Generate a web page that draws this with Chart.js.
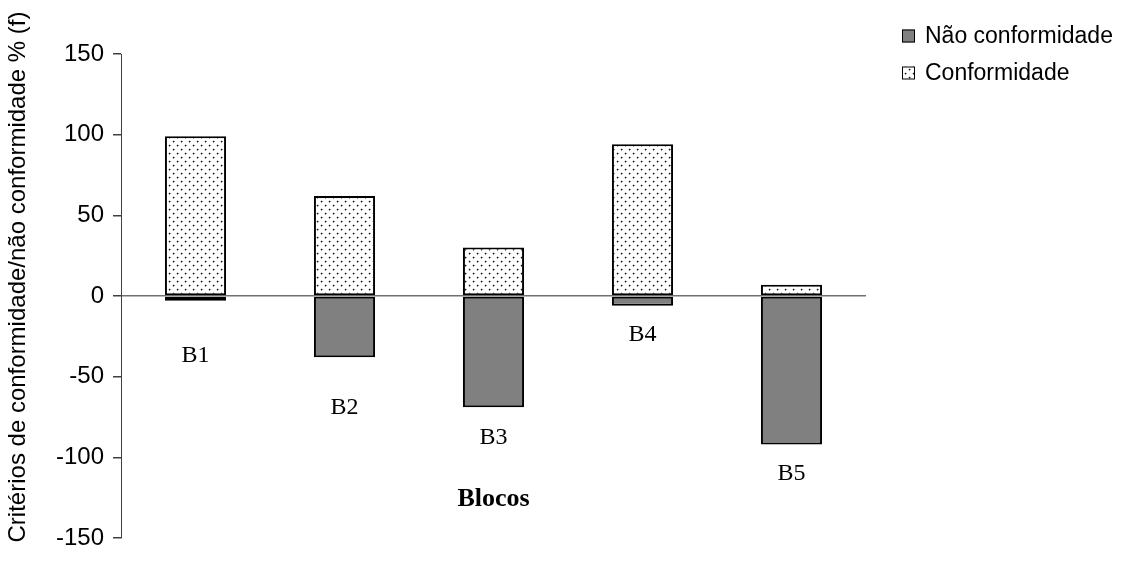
<!DOCTYPE html>
<html>
<head>
<meta charset="utf-8">
<script src="https://cdn.jsdelivr.net/npm/chart.js@4/dist/chart.umd.min.js"></script>
<style>
  html, body { margin: 0; padding: 0; background: #ffffff; }
  #wrap { width: 1131px; height: 571px; position: relative; }
</style>
</head>
<body>
<div id="wrap"><canvas id="chart" width="1131" height="571"></canvas></div>
<script>
// Blocks and their share of criteria met / not met (%)
const categories = ['B1', 'B2', 'B3', 'B4', 'B5'];
const naoConformidade = [-3, -38, -69, -6, -92];
const conformidade = [99, 62, 30, 94, 7];
const seriesNames = ['Não conformidade', 'Conformidade'];
const axisTitleY = 'Critérios de conformidade/não conformidade % (f)';
const axisTitleX = 'Blocos';

const SANS = "'Liberation Sans', Arial, Helvetica, sans-serif";
const SERIF = "'Liberation Serif', 'Times New Roman', Times, serif";

// Small dotted fill used for the "Conformidade" bars
function dotPattern() {
  const c = document.createElement('canvas');
  c.width = 8; c.height = 8;
  const g = c.getContext('2d');
  g.fillStyle = '#ffffff';
  g.fillRect(0, 0, 8, 8);
  g.fillStyle = '#1e1e1e';
  g.fillRect(1, 1, 1, 1);
  g.fillRect(5, 5, 1, 1);
  g.fillStyle = 'rgba(40,40,40,0.55)';
  g.fillRect(2, 1, 1, 1); g.fillRect(1, 2, 1, 1);
  g.fillRect(6, 5, 1, 1); g.fillRect(5, 6, 1, 1);
  g.fillStyle = 'rgba(40,40,40,0.25)';
  g.fillRect(0, 1, 1, 1); g.fillRect(1, 0, 1, 1);
  g.fillRect(4, 5, 1, 1); g.fillRect(5, 4, 1, 1);
  return g.createPattern(c, 'repeat');
}

const ctx = document.getElementById('chart').getContext('2d');
const dots = dotPattern();

// Category names sit below the bars at these heights (in axis units)
const categoryLabelLevels = [-37, -69, -88, -24, -110];

const labelsPlugin = {
  id: 'blockLabels',
  afterDatasetsDraw(chart) {
    const { ctx, scales: { x, y }, chartArea } = chart;
    ctx.save();
    ctx.fillStyle = '#000000';
    ctx.textAlign = 'center';
    ctx.textBaseline = 'middle';
    ctx.font = '24px ' + SERIF;
    categories.forEach((c, i) => {
      ctx.fillText(c, x.getPixelForValue(i), y.getPixelForValue(categoryLabelLevels[i]));
    });
    ctx.font = 'bold 26px ' + SERIF;
    ctx.fillText(axisTitleX, (chartArea.left + chartArea.right) / 2, y.getPixelForValue(-126));

    // vertical axis title
    ctx.save();
    ctx.translate(18, 277);
    ctx.rotate(-Math.PI / 2);
    ctx.font = '24px ' + SANS;
    ctx.fillText(axisTitleY, 0, 0);
    ctx.restore();
    ctx.restore();
  }
};

const legendPlugin = {
  id: 'sideLegend',
  afterDraw(chart) {
    const { ctx } = chart;
    ctx.save();
    ctx.font = '23px ' + SANS;
    ctx.textBaseline = 'middle';
    ctx.textAlign = 'left';
    chart.data.datasets.forEach((ds, i) => {
      const cy = 36 + i * 37;
      const bx = 902, size = 13;
      ctx.fillStyle = ds.backgroundColor;
      ctx.fillRect(bx, cy - size / 2, size, size);
      ctx.strokeStyle = '#000000';
      ctx.lineWidth = 1;
      ctx.strokeRect(bx + 0.5, cy - size / 2 + 0.5, size - 1, size - 1);
      ctx.fillStyle = '#000000';
      ctx.fillText(ds.label, 925, cy + 1);
    });
    ctx.restore();
  }
};

new Chart(ctx, {
  type: 'bar',
  data: {
    labels: categories,
    datasets: [
      {
        label: seriesNames[0],
        data: naoConformidade,
        backgroundColor: '#808080',
        borderColor: '#000000',
        borderWidth: 2,
        borderSkipped: false
      },
      {
        label: seriesNames[1],
        data: conformidade,
        backgroundColor: dots,
        borderColor: '#000000',
        borderWidth: 2,
        borderSkipped: false
      }
    ]
  },
  options: {
    responsive: false,
    animation: false,
    devicePixelRatio: 1,
    layout: { padding: { left: 0, top: 54, right: 265, bottom: 33 } },
    datasets: { bar: { categoryPercentage: 1.0, barPercentage: 0.41 } },
    plugins: {
      legend: { display: false },
      tooltip: { enabled: false },
      title: { display: false }
    },
    scales: {
      x: {
        display: false,
        stacked: true
      },
      y: {
        stacked: true,
        min: -150,
        max: 150,
        afterFit(scale) { scale.width = 121; },
        ticks: {
          stepSize: 50,
          padding: 9,
          color: '#000000',
          font: { family: SANS, size: 24 }
        },
        grid: {
          drawOnChartArea: true,
          color: (c) => (c.tick && c.tick.value === 0 ? '#707070' : 'rgba(0,0,0,0)'),
          tickColor: '#404040',
          tickLength: 8,
          lineWidth: 1.5
        },
        border: { display: true, color: '#404040', width: 1 },
        title: { display: false }
      }
    }
  },
  plugins: [labelsPlugin, legendPlugin]
});
</script>
</body>
</html>
